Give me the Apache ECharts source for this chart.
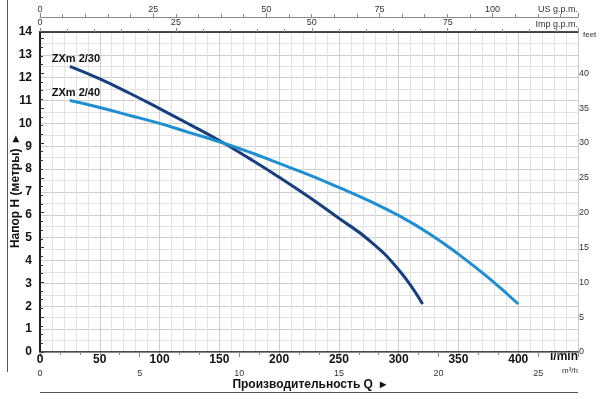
<!DOCTYPE html>
<html>
<head>
<meta charset="utf-8">
<script src="https://cdn.jsdelivr.net/npm/echarts@6/dist/echarts.min.js"></script>
<style>
  html, body { margin: 0; padding: 0; background: #fff; }
  #chart { width: 600px; height: 399px; }
</style>
</head>
<body>
<div id="chart"></div>
<script>
const FONT = "'Liberation Sans Narrow', 'Liberation Sans', Arial, sans-serif";

// Flow in l/min, head in metres
const flow_2_30 = [25, 50, 75, 100, 125, 150, 175, 200, 225, 250, 275, 300, 320];
const head_2_30 = [12.5, 11.95, 11.32, 10.65, 9.96, 9.25, 8.47, 7.65, 6.78, 5.85, 4.9, 3.6, 2.1];
const flow_2_40 = [25, 50, 75, 100, 125, 150, 175, 200, 225, 250, 275, 300, 325, 350, 375, 400];
const head_2_40 = [11.0, 10.7, 10.35, 10.0, 9.6, 9.2, 8.75, 8.25, 7.75, 7.2, 6.62, 5.97, 5.2, 4.28, 3.25, 2.1];

const seriesNames = ["ZXm 2/30", "ZXm 2/40"];
const seriesColors = ["#173f7f", "#1f8fd2"];

// axis ranges (right edge = 27 m3/h = 450 l/min)
const M3H_MAX = 27;
const LPM_MAX = M3H_MAX * 1000 / 60;
const M_MAX = 14;
const FEET_MAX = M_MAX * 3.28084;
const IMP_MAX = LPM_MAX / 4.54609;
const US_MAX = LPM_MAX / 3.78541;

const COLORS = {
  border: "#111",
  major: "#cdcdcd",
  minor: "#e2e2e2",
  aux: "#8a8a8a",
  text: "#111",
  small: "#333",
};

function toPairs(xs, ys, name) {
  return xs.map((x, i) => {
    const item = { value: [x, ys[i]] };
    if (i === 0) {
      item.label = {
        show: true,
        formatter: name,
        position: "top",
        distance: 0,
        offset: [6, -2],
        fontFamily: FONT,
        fontWeight: "bold",
        fontSize: 11,
        color: COLORS.text,
      };
    }
    return item;
  });
}

function auxAxis(extra) {
  return {
    type: "value",
    min: 0,
    interval: 25,
    axisLine: { show: true, lineStyle: { color: COLORS.aux, width: 1 } },
    axisTick: { show: true, length: 4, lineStyle: { color: COLORS.aux } },
    minorTick: { show: true, splitNumber: 5, length: 3, lineStyle: { color: COLORS.aux } },
    axisLabel: { fontFamily: FONT, fontSize: 9, color: COLORS.small, margin: 3, showMaxLabel: false },
    splitLine: { show: false },
    ...extra,
  };
}

const chart = echarts.init(document.getElementById("chart"));
chart.setOption({
  animation: false,
  grid: { left: 40, right: 22, top: 32, bottom: 47, outerBoundsMode: "none", containLabel: false },
  xAxis: [
    {
      type: "value",
      min: 0,
      max: LPM_MAX,
      interval: 50,
      name: "Производительность Q  ▸",
      nameLocation: "middle",
      nameGap: 27,
      nameMoveOverlap: false,
      nameTextStyle: { fontFamily: FONT, fontWeight: "bold", fontSize: 12, color: COLORS.text },
      axisLine: { show: true, lineStyle: { color: COLORS.border, width: 1.5 } },
      axisTick: { show: false },
      axisLabel: { fontFamily: FONT, fontWeight: "bold", fontSize: 12, color: COLORS.text, margin: 2, showMaxLabel: false },
      splitLine: { show: true, lineStyle: { color: COLORS.major, width: 1 } },
      minorTick: { show: false, splitNumber: 5 },
      minorSplitLine: { show: true, lineStyle: { color: COLORS.minor, width: 1 } },
    },
    auxAxis({
      position: "bottom",
      offset: 14,
      max: M3H_MAX,
      interval: 5,
      axisTick: { show: true, length: 5, lineStyle: { color: COLORS.aux } },
    }),
    auxAxis({
      position: "top",
      offset: 0,
      max: IMP_MAX,
      axisLine: { show: true, lineStyle: { color: COLORS.border, width: 1.5 } },
      axisLabel: { fontFamily: FONT, fontSize: 9, color: COLORS.small, margin: 5, showMaxLabel: false },
    }),
    auxAxis({
      position: "top",
      offset: 15,
      max: US_MAX,
    }),
  ],
  yAxis: [
    {
      type: "value",
      min: 0,
      max: M_MAX,
      interval: 1,
      name: "Напор H (метры)  ▸",
      nameLocation: "middle",
      nameGap: 18,
      nameMoveOverlap: false,
      nameTextStyle: { fontFamily: FONT, fontWeight: "bold", fontSize: 12, color: COLORS.text },
      axisLine: { show: true, lineStyle: { color: COLORS.border, width: 1.5 } },
      axisTick: { show: false },
      axisLabel: { fontFamily: FONT, fontWeight: "bold", fontSize: 12, color: COLORS.text, margin: 8 },
      splitLine: { show: true, lineStyle: { color: COLORS.major, width: 1 } },
      minorTick: { show: false, splitNumber: 2 },
      minorSplitLine: { show: true, lineStyle: { color: COLORS.minor, width: 1 } },
    },
    {
      type: "value",
      position: "right",
      min: 0,
      max: FEET_MAX,
      interval: 5,
      axisLine: { show: true, lineStyle: { color: COLORS.border, width: 1.5 } },
      axisTick: { show: true, length: 4, lineStyle: { color: COLORS.small } },
      minorTick: { show: true, splitNumber: 4, length: 3, lineStyle: { color: COLORS.small } },
      axisLabel: {
        fontFamily: FONT, fontSize: 9, color: COLORS.small, margin: 1,
        formatter: (v) => (v > 40 ? "" : String(v)),
      },
      splitLine: { show: false },
    },
  ],
  graphic: [
    { type: "text", right: 22, top: 351, style: { text: "l/min", font: `bold 12px ${FONT}`, fill: COLORS.text } },
    { type: "text", right: 22, top: 367, style: { text: "m³/h", font: `8px ${FONT}`, fill: COLORS.small } },
    { type: "text", right: 22, top: 5, style: { text: "US g.p.m.", font: `9px ${FONT}`, fill: COLORS.small } },
    { type: "text", right: 22, top: 20, style: { text: "Imp g.p.m.", font: `9px ${FONT}`, fill: COLORS.small } },
    { type: "text", left: 583, top: 31, style: { text: "feet", font: `8px ${FONT}`, fill: COLORS.small } },
    { type: "line", shape: { x1: 7.5, y1: 0, x2: 7.5, y2: 372 }, style: { stroke: "#555", lineWidth: 1 } },
    { type: "line", shape: { x1: 40, y1: 392.5, x2: 578, y2: 392.5 }, style: { stroke: "#555", lineWidth: 1 } },
  ],
  series: seriesNames.map((name, i) => ({
    name,
    type: "line",
    xAxisIndex: 0,
    yAxisIndex: 0,
    smooth: 0.5,
    showSymbol: true,
    symbol: "circle",
    symbolSize: 0,
    lineStyle: { color: seriesColors[i], width: 3 },
    itemStyle: { color: seriesColors[i] },
    data: i === 0 ? toPairs(flow_2_30, head_2_30, name) : toPairs(flow_2_40, head_2_40, name),
  })),
});
</script>
</body>
</html>
